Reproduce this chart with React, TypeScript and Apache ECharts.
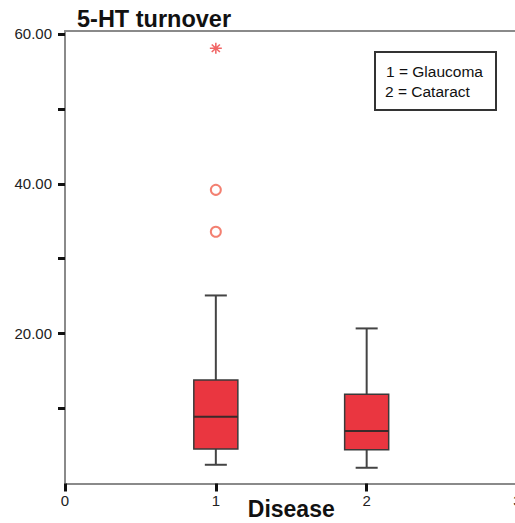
import React, { useEffect, useRef } from "react";
import * as echarts from "echarts";

// Box plot summary per disease group (1 = Glaucoma, 2 = Cataract)
const groups = [1, 2];
const lowWhisker = [2.5, 2.1];
const q1 = [4.6, 4.5];
const median = [8.9, 7.0];
const q3 = [13.8, 11.9];
const highWhisker = [25.1, 20.7];
// outliers (circles) and extremes (asterisks)
const outliers: [number, number][] = [
  [1, 39.2],
  [1, 33.6],
];
const extremes: [number, number][] = [[1, 58.1]];

const yTicks = [10, 20, 30, 40, 50, 60];
const yLabels = [20, 40, 60];

export default function App() {
  const ref = useRef<HTMLDivElement>(null);
  useEffect(() => {
    if (!ref.current) return;
    const chart = echarts.init(ref.current, null, { renderer: "svg" });
    const boxData = groups.map((g, i) => [g, lowWhisker[i], q1[i], median[i], q3[i], highWhisker[i]]);
    const lineColor = "#444444";
    chart.setOption({
      animation: false,
      textStyle: { fontFamily: "Liberation Sans, Arial, sans-serif" },
      title: {
        text: "5-HT turnover",
        left: 77,
        top: 7,
        padding: 0,
        textStyle: { fontSize: 23.5, fontWeight: "bold", color: "#111", fontFamily: "Liberation Sans, Arial, sans-serif" },
      },
      grid: { left: 65, top: 31, right: -2.5, bottom: 39.5, outerBoundsMode: "none", containLabel: false },
      xAxis: [
        {
          type: "value",
          min: 0,
          max: 3,
          interval: 1,
          name: "Disease",
          nameLocation: "middle",
          nameGap: 14,
          nameMoveOverlap: false,
          nameTextStyle: { fontSize: 23, fontWeight: "bold", color: "#111" },
          axisLine: { show: true, lineStyle: { color: "#8a8a8a", width: 2 } },
          axisTick: { show: true, length: 8, lineStyle: { color: "#111", width: 3 } },
          axisLabel: { fontSize: 15, color: "#222", margin: 9 },
          splitLine: { show: false },
        },
        {
          type: "value",
          position: "top",
          min: 0,
          max: 3,
          axisLine: { show: true, onZero: false, lineStyle: { color: "#8a8a8a", width: 2 } },
          axisTick: { show: false },
          axisLabel: { show: false },
          splitLine: { show: false },
        },
      ],
      yAxis: {
        type: "value",
        min: 0,
        max: 60.4,
        axisLine: { show: true, lineStyle: { color: "#8a8a8a", width: 2 } },
        axisTick: { show: true, length: 7, customValues: yTicks, lineStyle: { color: "#111", width: 3 } },
        axisLabel: {
          fontSize: 15,
          color: "#222",
          margin: 13,
          customValues: yLabels,
          formatter: (v: number) => v.toFixed(2),
        },
        splitLine: { show: false },
      },
      graphic: [
        {
          type: "group",
          left: 374,
          top: 51,
          children: [
            { type: "rect", shape: { x: 0, y: 0, width: 121, height: 58 }, style: { fill: "#fff", stroke: "#333", lineWidth: 2 } },
            { type: "text", x: 11, y: 19, style: { text: "1 = Glaucoma", fontSize: 15.5, fill: "#111", fontFamily: "Liberation Sans, Arial, sans-serif", verticalAlign: "middle" } },
            { type: "text", x: 10, y: 39, style: { text: "2 = Cataract", fontSize: 15.5, fill: "#111", fontFamily: "Liberation Sans, Arial, sans-serif", verticalAlign: "middle" } },
          ],
        },
      ],
      series: [
        {
          type: "custom",
          xAxisIndex: 0,
          encode: { x: 0, y: [1, 2, 3, 4, 5] },
          data: boxData,
          renderItem: (params: any, api: any) => {
            const x = api.value(0);
            const lo = api.value(1);
            const a = api.value(2);
            const m = api.value(3);
            const b = api.value(4);
            const hi = api.value(5);
            const hb = 0.146;
            const hc = 0.073;
            const pLo = api.coord([x, lo]);
            const pA = api.coord([x, a]);
            const pM = api.coord([x, m]);
            const pB = api.coord([x, b]);
            const pHi = api.coord([x, hi]);
            const left = api.coord([x - hb, a])[0];
            const right = api.coord([x + hb, a])[0];
            const cl = api.coord([x - hc, a])[0];
            const cr = api.coord([x + hc, a])[0];
            const ls = { stroke: lineColor, lineWidth: 2 };
            return {
              type: "group",
              children: [
                { type: "line", shape: { x1: pB[0], y1: pB[1], x2: pHi[0], y2: pHi[1] }, style: ls },
                { type: "line", shape: { x1: pLo[0], y1: pLo[1], x2: pA[0], y2: pA[1] }, style: ls },
                { type: "line", shape: { x1: cl, y1: pHi[1], x2: cr, y2: pHi[1] }, style: ls },
                { type: "line", shape: { x1: cl, y1: pLo[1], x2: cr, y2: pLo[1] }, style: ls },
                {
                  type: "rect",
                  shape: { x: left, y: pB[1], width: right - left, height: pA[1] - pB[1] },
                  style: { fill: "#ea3640", stroke: "#3a3a3a", lineWidth: 1.5 },
                },
                { type: "line", shape: { x1: left, y1: pM[1], x2: right, y2: pM[1] }, style: { stroke: "#3a2a2a", lineWidth: 2 } },
              ],
            };
          },
        },
        {
          type: "scatter",
          xAxisIndex: 0,
          data: outliers,
          symbol: "emptyCircle",
          symbolSize: 10,
          itemStyle: { color: "#f0604e", borderColor: "#f0604e", borderWidth: 2 },
        },
        {
          type: "scatter",
          xAxisIndex: 0,
          data: extremes,
          symbol: "path://M5 0 L5 10 M0 5 L10 5 M1.6 1.6 L8.4 8.4 M1.6 8.4 L8.4 1.6",
          symbolSize: [12, 11],
          itemStyle: { color: "rgba(0,0,0,0)", borderColor: "#ee4040", borderWidth: 1.5 },
        },
      ],
    });
    return () => chart.dispose();
  }, []);
  return <div ref={ref} style={{ position: "absolute", left: 0, top: 0, width: 515, height: 523 }} />;
}
